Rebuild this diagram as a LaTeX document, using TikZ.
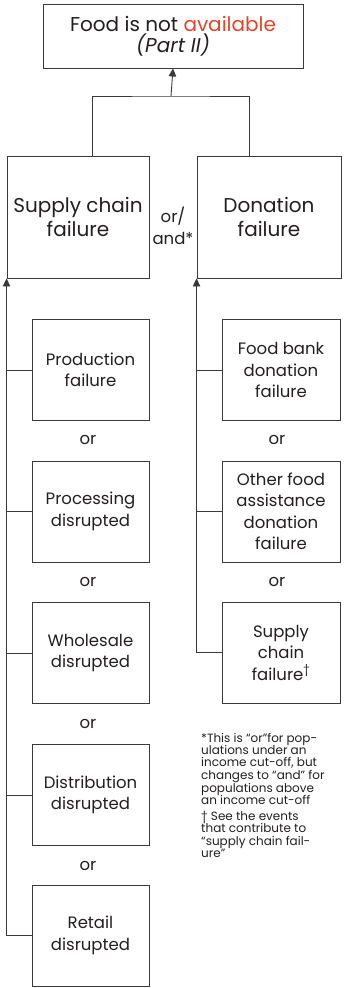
\documentclass[tikz,border=0pt]{standalone}
\usepackage{fontspec}
\setmainfont{Poppins}
\usetikzlibrary{arrows.meta,calc,positioning}
\definecolor{ink}{HTML}{231F20}
\definecolor{rule}{HTML}{3A3A3A}
\definecolor{alert}{HTML}{E2462A}
\tikzset{
  fbox/.style={draw=rule,line width=0.9pt,fill=white,align=center,text=ink,inner sep=2pt},
  bigbox/.style={fbox,font=\fontsize{20}{23.5}\selectfont},
  subbox/.style={fbox,font=\fontsize{16.5}{21.5}\selectfont,minimum height=101pt},
  orlabel/.style={font=\fontsize{16.5}{22}\selectfont,text=ink},
  link/.style={draw=rule,line width=0.9pt},
  arrow/.style={link,-{Triangle[length=8pt,width=7.5pt]}},
  note/.style={font=\fontsize{12}{12.3}\selectfont,text=ink,align=left,anchor=north west,inner sep=0pt}
}
\begin{document}
\begin{tikzpicture}[x=1pt,y=-1pt]
    \useasboundingbox (0,0) rectangle (343,988);

    % top event
    \node[bigbox,minimum width=260pt,minimum height=64pt] (top) at (173,36)
      {Food is not \textcolor{alert}{available}\\[-2pt]\textit{(Part II)}};

    % two branches
    \node[bigbox,minimum width=142pt,minimum height=122pt] (sup) at (78,217) {Supply chain\\failure};
    \node[bigbox,minimum width=144pt,minimum height=122pt] (don) at (269,217) {Donation\\failure};
    \node[orlabel,align=center] (gate) at (173,226) {or/\\and*};

    \coordinate (jn) at (171,96);
    \draw[link] ([xshift=14pt]sup.north) |- (jn) -| ([xshift=-20pt]don.north);
    \draw[arrow] (jn) -- (top.south);

    % supply chain events
    \node[subbox,minimum width=117pt] (prod) at (90.5,370) {Production\\failure};
    \node[subbox,minimum width=117pt] (proc) at (90.5,511.5) {Processing\\disrupted};
    \node[subbox,minimum width=117pt] (whol) at (90.5,653) {Wholesale\\disrupted};
    \node[subbox,minimum width=117pt] (dist) at (90.5,795) {Distribution\\disrupted};
    \node[subbox,minimum width=117pt] (ret) at (90.5,935.5) {Retail\\disrupted};
    \node[orlabel] (or1) at (88,440) {or};
    \node[orlabel] (or2) at (88,582) {or};
    \node[orlabel] (or3) at (88,724) {or};
    \node[orlabel] (or4) at (88,866) {or};

    \draw[arrow] (ret.west) -| (sup.south west);
    \foreach \n in {prod,proc,whol,dist}
      \draw[link] (\n.west) -- (\n.west -| sup.west);

    % donation events
    \node[subbox,minimum width=118pt] (bank) at (281,370) {Food bank\\donation\\failure};
    \node[subbox,minimum width=118pt] (other) at (281,511.5) {Other food\\assistance\\donation\\failure};
    \node[subbox,minimum width=118pt] (chain) at (281,652.5) {Supply\\chain\\failure\textsuperscript{\dag}};
    \node[orlabel] (or5) at (277,440) {or};
    \node[orlabel] (or6) at (277,582) {or};

    \draw[arrow] (chain.west) -| (don.south west);
    \foreach \n in {bank,other}
      \draw[link] (\n.west) -- (\n.west -| don.west);

    % footnotes
    \node[note] (fn1) at (201,733) {*This is “or”for pop-\\ulations under an\\income cut-off, but\\changes to “and” for\\populations above\\an income cut-off};
    \node[note] (fn2) at (201,811) {\dag{} See the events\\that contribute to\\“supply chain fail-\\ure”};
\end{tikzpicture}
\end{document}
